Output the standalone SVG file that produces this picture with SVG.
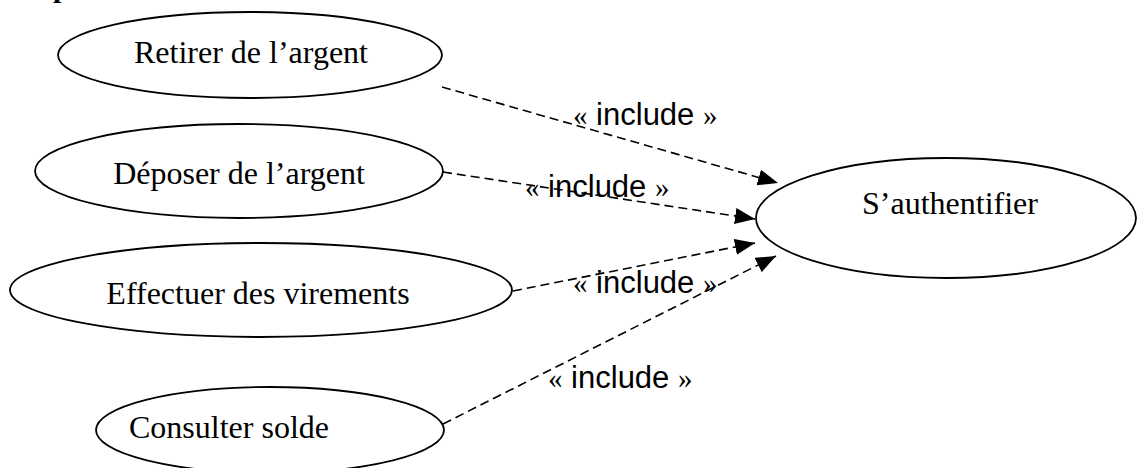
<svg xmlns="http://www.w3.org/2000/svg" width="1137" height="468" viewBox="0 0 1137 468">
<style>
.uc{fill:#fff;stroke:#000;stroke-width:1.8}
.t{font-family:"Liberation Serif","Times New Roman",serif;font-size:32px;fill:#000;text-anchor:middle}
.lbl{font-family:"Liberation Sans",Arial,sans-serif;font-size:31px;fill:#000}
.g{font-family:"Liberation Serif","Times New Roman",serif;font-size:29px}
.dep{fill:none;stroke:#000;stroke-width:1.6;stroke-dasharray:9 5;marker-end:url(#arr)}
</style>
<defs>
<marker id="arr" markerUnits="userSpaceOnUse" markerWidth="22" markerHeight="18" refX="20" refY="8" orient="auto">
<path d="M0,0 L20,8 L0,16 Z" fill="#000"/>
</marker>
</defs>
<rect width="1137" height="468" fill="#fff"/>
<text x="53" y="-3" style="font-family:'Liberation Serif',serif;font-weight:bold;font-size:30px">p</text>
<g id="connectors">
<line class="dep" x1="442" y1="87" x2="778" y2="183"/>
<line class="dep" x1="443" y1="172" x2="755" y2="219"/>
<line class="dep" x1="513" y1="291" x2="755" y2="243"/>
<line class="dep" x1="443" y1="424" x2="776" y2="256"/>
</g>
<g id="labels">
<text class="lbl" x="573" y="125"><tspan class="g">«</tspan> include <tspan class="g">»</tspan></text>
<text class="lbl" x="525" y="197"><tspan class="g">«</tspan> include <tspan class="g">»</tspan></text>
<text class="lbl" x="573" y="293"><tspan class="g">«</tspan> include <tspan class="g">»</tspan></text>
<text class="lbl" x="548" y="388"><tspan class="g">«</tspan> include <tspan class="g">»</tspan></text>
</g>
<g id="retirer">
<ellipse class="uc" cx="250" cy="55" rx="192" ry="43"/>
<text class="t" x="251" y="63">Retirer de l’argent</text>
</g>
<g id="deposer">
<ellipse class="uc" cx="239" cy="171" rx="204" ry="47"/>
<text class="t" x="239" y="184">Déposer de l’argent</text>
</g>
<g id="effectuer">
<ellipse class="uc" cx="261" cy="290" rx="251" ry="47"/>
<text class="t" x="258" y="304">Effectuer des virements</text>
</g>
<g id="consulter">
<ellipse class="uc" cx="270" cy="430" rx="174" ry="43"/>
<text class="t" x="229" y="438">Consulter solde</text>
</g>
<g id="authentifier">
<ellipse class="uc" cx="946" cy="218" rx="190" ry="60"/>
<text class="t" x="950" y="214">S’authentifier</text>
</g>
</svg>
